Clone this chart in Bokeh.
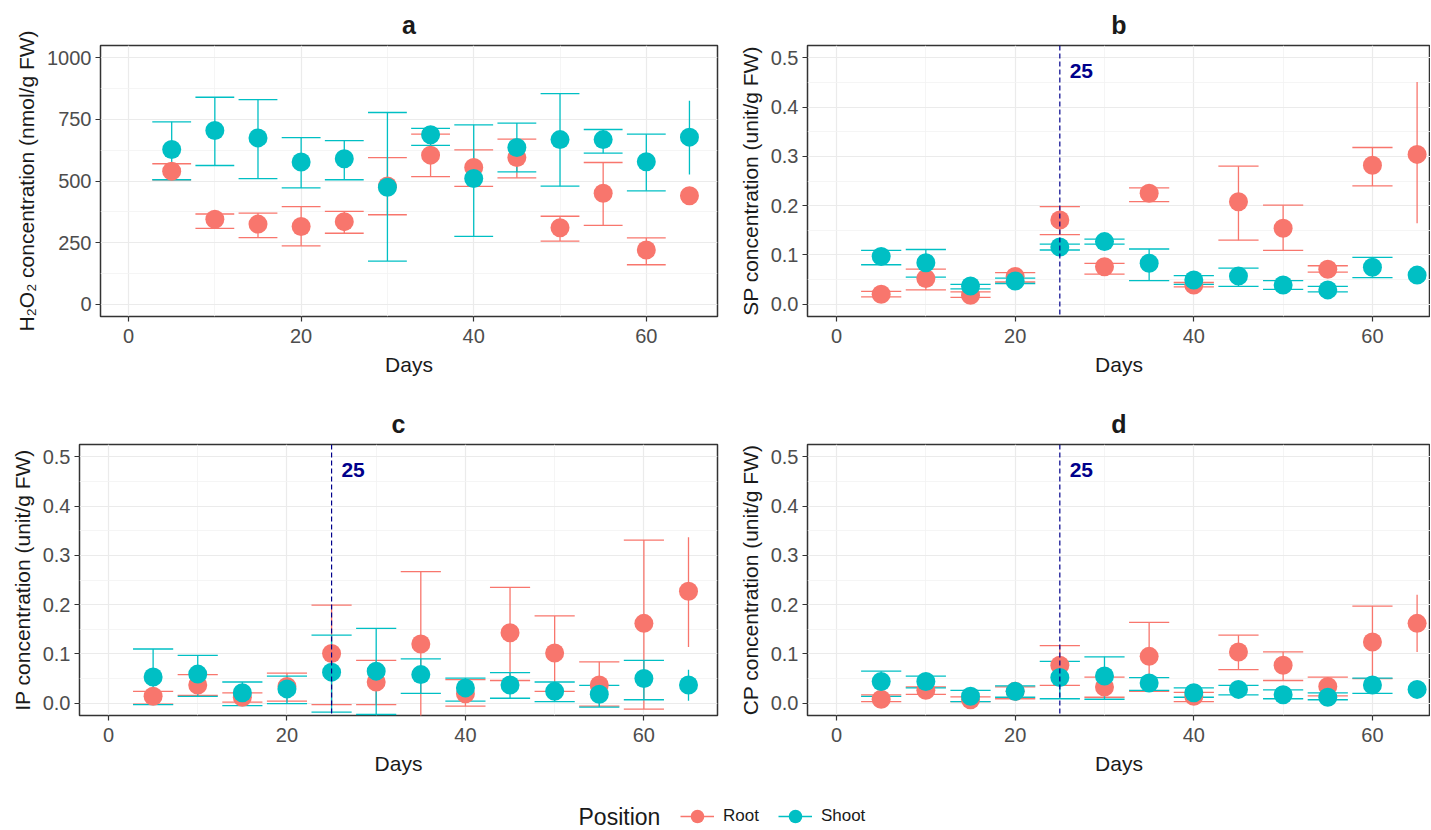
from bokeh.plotting import figure
from bokeh.models import ColumnDataSource, Span, Label, Legend, LegendItem, FixedTicker, Range1d
from bokeh.layouts import column, row
from bokeh.embed import file_html
from bokeh.resources import INLINE

# ---------------- data ----------------
days = [5, 10, 15, 20, 25, 30, 35, 40, 45, 50, 55, 60, 65]
positions = ["Root", "Shoot"]
x_ticks = [0, 20, 40, 60]
x_minor = [10, 30, 50]

h2o2_root_mean = [540, 345, 325, 315, 335, 480, 605, 555, 595, 310, 450, 220, 440]
h2o2_root_lo = [505, 308, 270, 237, 288, 363, 518, 478, 513, 256, 320, 160, 425]
h2o2_root_hi = [570, 366, 370, 396, 377, 595, 690, 626, 670, 357, 575, 269, 455]
h2o2_shoot_mean = [628, 705, 675, 577, 590, 475, 688, 510, 636, 668, 668, 578, 678]
h2o2_shoot_lo = [505, 563, 510, 472, 505, 175, 645, 275, 537, 479, 613, 460, 526]
h2o2_shoot_hi = [740, 840, 830, 676, 664, 778, 714, 728, 735, 855, 709, 690, 826]

sp_root_mean = [0.020, 0.052, 0.018, 0.056, 0.171, 0.076, 0.225, 0.039, 0.208, 0.154, 0.071, 0.282, 0.304]
sp_root_lo = [0.015, 0.029, 0.014, 0.045, 0.141, 0.061, 0.208, 0.035, 0.130, 0.109, 0.065, 0.240, 0.164]
sp_root_hi = [0.026, 0.071, 0.025, 0.064, 0.198, 0.083, 0.236, 0.044, 0.280, 0.201, 0.078, 0.318, 0.451]
sp_shoot_mean = [0.097, 0.084, 0.037, 0.047, 0.116, 0.127, 0.083, 0.049, 0.057, 0.039, 0.029, 0.075, 0.059]
sp_shoot_lo = [0.080, 0.055, 0.031, 0.042, 0.110, 0.122, 0.048, 0.040, 0.036, 0.030, 0.025, 0.054, 0.055]
sp_shoot_hi = [0.109, 0.111, 0.040, 0.053, 0.122, 0.132, 0.112, 0.058, 0.073, 0.048, 0.036, 0.095, 0.064]

ip_root_mean = [0.014, 0.037, 0.012, 0.034, 0.101, 0.043, 0.120, 0.019, 0.143, 0.102, 0.037, 0.162, 0.227]
ip_root_lo = [-0.002, 0.016, 0.002, 0.004, -0.003, -0.003, -0.035, -0.006, 0.046, 0.024, -0.006, -0.012, 0.114]
ip_root_hi = [0.024, 0.058, 0.021, 0.061, 0.199, 0.087, 0.267, 0.048, 0.235, 0.177, 0.084, 0.331, 0.337]
ip_shoot_mean = [0.053, 0.059, 0.021, 0.029, 0.063, 0.065, 0.058, 0.031, 0.037, 0.024, 0.018, 0.050, 0.037]
ip_shoot_lo = [-0.003, 0.014, -0.005, -0.001, -0.018, -0.023, 0.020, 0.004, 0.010, 0.003, -0.008, 0.007, 0.005]
ip_shoot_hi = [0.110, 0.097, 0.043, 0.055, 0.138, 0.152, 0.090, 0.051, 0.062, 0.043, 0.036, 0.087, 0.068]

cp_root_mean = [0.008, 0.026, 0.007, 0.024, 0.077, 0.033, 0.095, 0.014, 0.104, 0.077, 0.034, 0.124, 0.162]
cp_root_lo = [0.003, 0.018, 0.003, 0.009, 0.036, 0.012, 0.024, 0.003, 0.068, 0.046, 0.015, 0.050, 0.104]
cp_root_hi = [0.017, 0.033, 0.013, 0.033, 0.117, 0.053, 0.164, 0.022, 0.138, 0.104, 0.053, 0.197, 0.220]
cp_shoot_mean = [0.044, 0.044, 0.014, 0.024, 0.052, 0.055, 0.041, 0.021, 0.028, 0.017, 0.012, 0.037, 0.028]
cp_shoot_lo = [0.014, 0.031, 0.003, 0.012, 0.009, 0.008, 0.026, 0.012, 0.017, 0.009, 0.007, 0.020, 0.022]
cp_shoot_hi = [0.065, 0.055, 0.026, 0.035, 0.085, 0.094, 0.052, 0.031, 0.036, 0.027, 0.021, 0.051, 0.034]

h2o2_ticks = [0, 250, 500, 750, 1000]
h2o2_minor = [125, 375, 625, 875]
enz_ticks = [0.0, 0.1, 0.2, 0.3, 0.4, 0.5]
enz_minor = [0.05, 0.15, 0.25, 0.35, 0.45]
enz_tick_labels = {0.0: "0.0", 0.1: "0.1", 0.2: "0.2", 0.3: "0.3", 0.4: "0.4", 0.5: "0.5"}

vline_day = 25
vline_label = "25"

# ---------------- style ----------------
COLORS = {"Root": "#F8766D", "Shoot": "#00BFC4"}
X_LIMIT = 65
CAP_HALF = 2.25
TICK_FONT = "'Liberation Sans', Arial, sans-serif"
LABEL_FONT = "'Liberation Sans', Arial, sans-serif"


def make_panel(title, ylabel, series, y_rng, yticks, yminor, ylabels, frame_w, x_end,
               mb_left, mb_right, mb_top, mb_bottom, vline=False, label_y=None):
    p = figure(frame_width=frame_w, frame_height=271, output_backend="svg",
               toolbar_location=None, x_range=Range1d(-3.25, x_end),
               y_range=Range1d(*y_rng), min_border_left=mb_left,
               min_border_right=mb_right, min_border_top=mb_top,
               min_border_bottom=mb_bottom)
    p.title.text = title
    p.title.align = "center"
    p.title.text_font = LABEL_FONT
    p.title.text_font_size = "25px"
    p.title.text_font_style = "bold"
    p.title.text_color = "#1a1a1a"
    p.title.offset = 0
    p.title.standoff = 14

    p.outline_line_color = "#333333"
    p.outline_line_width = 1.5
    p.background_fill_color = "white"
    p.border_fill_color = "white"

    p.xaxis.ticker = FixedTicker(ticks=x_ticks, minor_ticks=x_minor)
    p.yaxis.ticker = FixedTicker(ticks=yticks, minor_ticks=yminor)
    if ylabels:
        p.yaxis.major_label_overrides = ylabels
    for ax in (p.xaxis, p.yaxis):
        ax.axis_line_color = None
        ax.major_tick_line_color = "#333333"
        ax.major_tick_line_width = 1.2
        ax.major_tick_out = 5
        ax.major_tick_in = 0
        ax.minor_tick_line_color = None
        ax.major_label_text_font = TICK_FONT
        ax.major_label_text_font_size = "20px"
        ax.major_label_text_color = "#4D4D4D"
        ax.axis_label_text_font = LABEL_FONT
        ax.axis_label_text_font_size = "21px"
        ax.axis_label_text_font_style = "normal"
        ax.axis_label_text_color = "#1a1a1a"
    p.xaxis.axis_label = "Days"
    p.yaxis.axis_label = ylabel
    p.xaxis.major_label_standoff = 7
    p.xaxis.axis_label_standoff = 7
    p.yaxis.major_label_standoff = 4
    p.yaxis.axis_label_standoff = 6

    for g in (p.xgrid, p.ygrid):
        g.grid_line_color = "#EBEBEB"
        g.grid_line_width = 1.2
        g.minor_grid_line_color = "#F2F2F2"
        g.minor_grid_line_width = 0.8

    if vline:
        p.add_layout(Span(location=vline_day, dimension="height", line_color="#00008B",
                          line_dash="5 3", line_width=1.2))
        p.add_layout(Label(x=vline_day + 1.1, y=label_y, text=vline_label,
                           text_color="#00008B", text_font=TICK_FONT, text_font_size="21px",
                           text_font_style="bold", text_baseline="middle", text_align="left"))

    # error bars first
    for pos in positions:
        mean, lo, hi = series[pos]
        col = COLORS[pos]
        src = ColumnDataSource(dict(x=days, lo=lo, hi=hi))
        p.segment(x0="x", y0="lo", x1="x", y1="hi", source=src, line_color=col, line_width=1.3)
        cap_idx = [i for i, d in enumerate(days) if d + CAP_HALF <= X_LIMIT]
        cx0 = [days[i] - CAP_HALF for i in cap_idx]
        cx1 = [days[i] + CAP_HALF for i in cap_idx]
        csrc = ColumnDataSource(dict(x0=cx0 + cx0, x1=cx1 + cx1,
                                     y=[lo[i] for i in cap_idx] + [hi[i] for i in cap_idx]))
        p.segment(x0="x0", y0="y", x1="x1", y1="y", source=csrc, line_color=col, line_width=1.3)
    for pos in positions:
        mean, lo, hi = series[pos]
        src = ColumnDataSource(dict(x=days, y=mean))
        p.scatter(x="x", y="y", source=src, size=19, marker="circle",
                  fill_color=COLORS[pos], line_color=COLORS[pos], line_width=0)
    return p


pa = make_panel("a", "H\u2082O\u2082 concentration (nmol/g FW)",
                {"Root": (h2o2_root_mean, h2o2_root_lo, h2o2_root_hi),
                 "Shoot": (h2o2_shoot_mean, h2o2_shoot_lo, h2o2_shoot_hi)},
                (-50, 1050), h2o2_ticks, h2o2_minor, None, 617, 68.25,
                100, 16, 45, 84)
pb = make_panel("b", "SP concentration (unit/g FW)",
                {"Root": (sp_root_mean, sp_root_lo, sp_root_hi),
                 "Shoot": (sp_shoot_mean, sp_shoot_lo, sp_shoot_hi)},
                (-0.025, 0.525), enz_ticks, enz_minor, enz_tick_labels, 623, 66.5,
                74, 0, 45, 84, vline=True, label_y=0.474)
pc = make_panel("c", "IP concentration (unit/g FW)",
                {"Root": (ip_root_mean, ip_root_lo, ip_root_hi),
                 "Shoot": (ip_shoot_mean, ip_shoot_lo, ip_shoot_hi)},
                (-0.025, 0.525), enz_ticks, enz_minor, enz_tick_labels, 638, 68.25,
                79, 16, 39, 82, vline=True, label_y=0.474)
pd_ = make_panel("d", "CP concentration (unit/g FW)",
                 {"Root": (cp_root_mean, cp_root_lo, cp_root_hi),
                  "Shoot": (cp_shoot_mean, cp_shoot_lo, cp_shoot_hi)},
                 (-0.025, 0.525), enz_ticks, enz_minor, enz_tick_labels, 623, 66.5,
                 74, 0, 39, 82, vline=True, label_y=0.474)

# ---------------- legend strip ----------------
lg = figure(width=1430, height=37, output_backend="svg", toolbar_location=None,
            x_axis_type=None, y_axis_type=None, min_border=0,
            x_range=Range1d(0, 1), y_range=Range1d(0, 1))
lg.outline_line_color = None
lg.xgrid.visible = False
lg.ygrid.visible = False
items = []
for pos in positions:
    # key renderers (their data lie outside this strip's ranges; only the legend keys show)
    key_src = ColumnDataSource(dict(x=days, y=h2o2_root_mean if pos == "Root" else h2o2_shoot_mean))
    r_line = lg.line(x="x", y="y", source=key_src, line_color=COLORS[pos], line_width=1.3)
    r_pt = lg.scatter(x="x", y="y", source=key_src, size=15, marker="circle",
                      fill_color=COLORS[pos], line_color=COLORS[pos], line_width=0)
    items.append(LegendItem(label=pos, renderers=[r_line, r_pt]))
legend = Legend(items=items, orientation="horizontal", location=(680, 0),
                glyph_width=34, glyph_height=36, label_height=36, label_standoff=9,
                spacing=19, padding=0, margin=0, border_line_color=None,
                background_fill_alpha=0, label_text_font=LABEL_FONT,
                label_text_font_size="17px", label_text_color="#1a1a1a")
lg.add_layout(legend, "center")
lg.add_layout(Label(x=578, y=18, x_units="screen", y_units="screen", text="Position",
                    text_font=LABEL_FONT, text_font_size="23px", text_color="#1a1a1a",
                    text_baseline="middle", text_align="left"))

layout = column(row(pa, pb), row(pc, pd_), lg)
open("out.html", "w").write(file_html(layout, INLINE))
